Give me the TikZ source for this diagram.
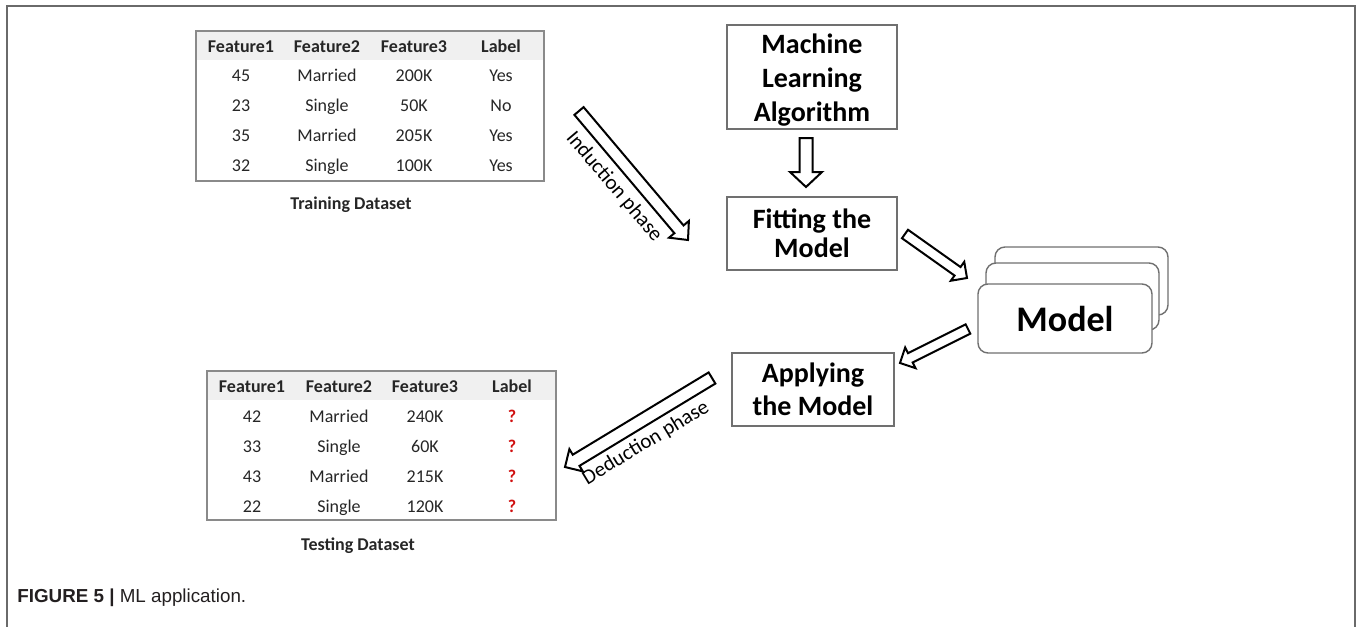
\documentclass[tikz,border=0pt]{standalone}
\usepackage{fontspec}
\setmainfont{Carlito}
\newfontfamily\capfont{Liberation Sans}
\usetikzlibrary{calc}

\definecolor{framecol}{HTML}{6A6A6A}
\definecolor{tablecol}{HTML}{8A8A8A}
\definecolor{boxcol}{HTML}{707070}
\definecolor{headfill}{HTML}{F0F0F0}
\definecolor{txt}{HTML}{262626}
\definecolor{qred}{HTML}{D01010}
\definecolor{captxt}{HTML}{231F20}

% hollow block arrow: tail, tip, shaft half width, head half width, head length
\newcommand\hollowarrow[5]{%
  \coordinate (hb) at ($(#2)!#5!(#1)$);
  \draw[blockarrow] ($(#1)!#3!90:(#2)$) -- ($(hb)!#3!90:(#2)$) -- ($(hb)!#4!90:(#2)$)
    -- (#2) -- ($(hb)!#4!-90:(#2)$) -- ($(hb)!#3!-90:(#2)$) -- ($(#1)!#3!-90:(#2)$) -- cycle;}

\begin{document}
\begin{tikzpicture}[x=0.5pt,y=-0.5pt,
  blockarrow/.style={draw=black, fill=white, line width=1pt, line join=miter},
  tableframe/.style={draw=tablecol, line width=0.7pt, inner sep=0pt},
  cellhead/.style={font=\bfseries\fontsize{9}{10}\selectfont, text=txt, text height=0.64em, text depth=0pt, inner sep=0pt},
  cell/.style={font=\fontsize{9}{10}\selectfont, text=txt, text height=0.64em, text depth=0pt, inner sep=0pt},
  qmark/.style={cellhead, text=qred},
  dsname/.style={font=\bfseries\fontsize{9}{10}\selectfont, text=txt, inner sep=0pt},
  stepbox/.style={draw=boxcol, line width=0.7pt, align=center, inner sep=0pt, text=black},
  modelbox/.style={draw=boxcol, fill=white, line width=0.7pt, rounded corners=5pt, minimum width=86.5pt, inner sep=0pt},
  phase/.style={font=\fontsize{10.5}{12}\selectfont, text=black, inner sep=0pt}
]
\useasboundingbox (0,0) rectangle (1357,627);

% outer frame, open at the bottom
\draw[framecol, line width=0.75pt] (7,627) -- (7,6) -- (1355,6) -- (1355,627);

% ---------- training table ----------
\fill[headfill] (196,31) rectangle (544,60);
\node[tableframe, minimum width=174pt, minimum height=75pt] (train) at (370,106) {};
\foreach \x/\t [count=\i] in {241/Feature1, 327/Feature2, 414/Feature3, 501/Label}
  \node[cellhead] (tr-h\i) at (\x,46) {\t};
\foreach \y/\a/\b/\c/\d [count=\r] in {75.5/45/Married/200K/Yes, 105.5/23/Single/50K/No,
    135.5/35/Married/205K/Yes, 165.5/32/Single/100K/Yes}{
  \node[cell] (tr-\r-1) at (241,\y) {\a};
  \node[cell] (tr-\r-2) at (327,\y) {\b};
  \node[cell] (tr-\r-3) at (414,\y) {\c};
  \node[cell] (tr-\r-4) at (501,\y) {\d};
}
\node[dsname] (trainname) at (351,205) {Training Dataset};

% ---------- testing table ----------
\fill[headfill] (207,371) rectangle (556,400);
\node[tableframe, minimum width=174.5pt, minimum height=74.5pt] (test) at (381.5,445.5) {};
\foreach \x/\t [count=\i] in {252/Feature1, 339/Feature2, 425/Feature3, 512/Label}
  \node[cellhead] (te-h\i) at (\x,386) {\t};
\foreach \y/\a/\b/\c [count=\r] in {416.5/42/Married/240K, 446.5/33/Single/60K,
    476/43/Married/215K, 506/22/Single/120K}{
  \node[cell] (te-\r-1) at (252,\y) {\a};
  \node[cell] (te-\r-2) at (339,\y) {\b};
  \node[cell] (te-\r-3) at (425,\y) {\c};
  \node[qmark] (te-\r-4) at (512,\y) {?};
}
\node[dsname] (testname) at (358,546) {Testing Dataset};

% ---------- process boxes ----------
\node[stepbox, minimum width=85pt, minimum height=52pt,
      font=\bfseries\fontsize{14}{17}\selectfont] (mla) at (812,77)
      {\rule{0pt}{13pt}Machine\\Learning\\Algorithm};
\node[stepbox, minimum width=85pt, minimum height=36.5pt,
      font=\bfseries\fontsize{14}{14.5}\selectfont] (fit) at (812,233.5)
      {Fitting the\\Model};
\node[stepbox, minimum width=81pt, minimum height=36.5pt,
      font=\bfseries\fontsize{14}{16.5}\selectfont] (apply) at (813,389.5)
      {Applying\\the Model};

% ---------- stacked model cards ----------
\node[modelbox, minimum height=34pt] (model3) at (1081.5,281) {};
\node[modelbox, minimum height=33.5pt] (model2) at (1072.5,296.5) {};
\node[modelbox, minimum width=87pt, minimum height=34.5pt,
      font=\bfseries\fontsize{18}{20}\selectfont] (model) at (1065,318.5) {Model};

% ---------- arrows ----------
\coordinate (ind-s) at (579,111);   \coordinate (ind-e) at (688,240);
\coordinate (dn-s)  at (806,138);   \coordinate (dn-e)  at (806,187);
\coordinate (fm-s)  at (905,234);   \coordinate (fm-e)  at (967,278);
\coordinate (ma-s)  at (968,329);   \coordinate (ma-e)  at (900,363);
\coordinate (ded-s) at (712,378);   \coordinate (ded-e) at (565,467);

\hollowarrow{ind-s}{ind-e}{3pt}{6.5pt}{7pt}
\hollowarrow{dn-s}{dn-e}{3.25pt}{8pt}{7.5pt}
\hollowarrow{fm-s}{fm-e}{2.6pt}{5.8pt}{5.8pt}
\hollowarrow{ma-s}{ma-e}{2.6pt}{5.8pt}{5.8pt}
\hollowarrow{ded-s}{ded-e}{3.25pt}{6.5pt}{6.5pt}

\node[phase, rotate=-49.7] (indlabel) at (614,187) {Induction phase};
\node[phase, rotate=31.2] (dedlabel) at (646,443) {Deduction phase};

% ---------- caption ----------
\node[anchor=west, inner sep=0pt, text=captxt, font=\capfont\fontsize{9.4}{11}\selectfont]
  (caption) at (17,598) {\textbf{FIGURE 5 |} ML application.};
\end{tikzpicture}
\end{document}
